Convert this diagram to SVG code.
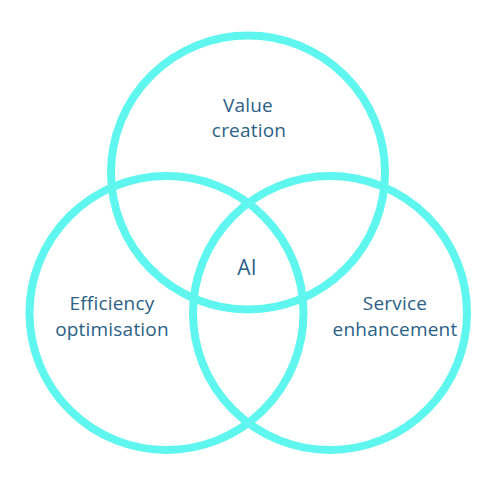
<svg xmlns="http://www.w3.org/2000/svg" width="500" height="500" viewBox="0 0 500 500">
<style>
.c{fill:none;stroke:#5ef6ef;stroke-width:8}
.t{font-family:"Open Sans","Liberation Sans",sans-serif;font-size:19px;fill:#2c5f86;text-anchor:middle;letter-spacing:0.2px}
</style>
<rect width="500" height="500" fill="#ffffff"/>
<g id="value-creation"><circle class="c" cx="248" cy="172.5" r="137"/><text class="t" x="248" y="112">Value</text><text class="t" x="249" y="137">creation</text></g>
<g id="efficiency-optimisation"><circle class="c" cx="166.5" cy="313" r="137"/><text class="t" x="112" y="310">Efficiency</text><text class="t" x="112" y="336">optimisation</text></g>
<g id="service-enhancement"><circle class="c" cx="330" cy="313" r="137"/><text class="t" x="395" y="310">Service</text><text class="t" x="395" y="336">enhancement</text></g>
<g id="ai"><text class="t" x="247" y="275" style="font-size:21px">AI</text></g>
</svg>
